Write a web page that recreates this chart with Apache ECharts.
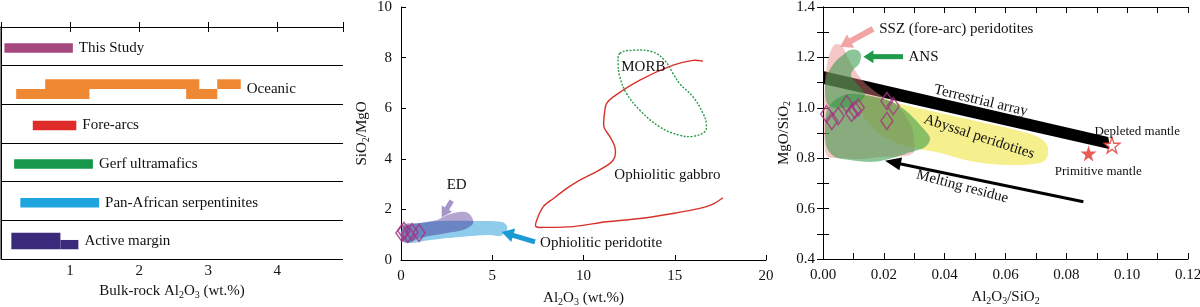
<!DOCTYPE html>
<html>
<head>
<meta charset="utf-8">
<script src="https://cdn.jsdelivr.net/npm/echarts@6/dist/echarts.min.js"></script>
<style>
html,body{margin:0;padding:0;background:#fff;}
#chart{width:1200px;height:307px;}
</style>
</head>
<body>
<div id="chart"></div>
<script>
// ================= DATA =================
// ---- Panel 1: bulk-rock Al2O3 ranges (wt.%) ----
const rowNames = ['This Study', 'Oceanic', 'Fore-arcs', 'Gerf ultramafics', 'Pan-African serpentinites', 'Active margin'];
const thisStudyRange = [[0.05, 1.04]];
const oceanicUpperRanges = [[0.64, 2.87], [3.13, 3.47]];
const oceanicLowerRanges = [[0.22, 1.28], [2.68, 3.13]];
const foreArcRange = [[0.46, 1.09]];
const gerfRange = [[0.19, 1.33]];
const panAfricanRange = [[0.28, 1.42]];
const activeMarginRange = [[0.15, 0.86]];
const activeMarginTail = [[0.86, 1.12]];
const p1TickLabels = [1, 2, 3, 4];

// ---- Panel 2: SiO2/MgO vs Al2O3 ----
const gabbroLine = [[16.55,7.86],[16.0,7.89],[14.91,7.70],[13.09,7.11],[11.63,6.45],[11.26,6.18],[11.17,5.92],[11.12,5.26],[11.45,4.87],[11.72,4.47],[11.72,4.08],[11.45,3.82],[10.53,3.42],[9.80,3.16],[9.08,2.83],[8.35,2.43],[7.80,2.11],[7.44,1.58],[7.40,1.32],[7.98,1.29],[9.44,1.32],[11.26,1.51],[13.09,1.64],[14.91,1.84],[16.37,2.04],[17.10,2.21],[17.64,2.46]];
const morbOutline = [[11.99,8.16],[12.72,8.29],[13.81,8.22],[14.45,7.89],[14.91,7.37],[15.27,6.97],[16.0,6.45],[16.55,5.79],[16.73,5.39],[16.64,5.07],[16.0,4.89],[15.27,4.93],[14.18,5.26],[13.09,5.92],[12.36,6.58],[11.99,7.24],[11.9,7.76]];
const ophioliticPeridotite = [[0.0,1.07],[0.05,0.79],[0.49,0.67],[1.59,0.79],[3.23,0.91],[4.88,0.99],[5.42,0.95],[5.75,1.11],[5.81,1.34],[5.53,1.50],[4.33,1.54],[2.14,1.54],[1.04,1.46],[0.22,1.34]];
const edField = [[0.02,0.80],[0.11,1.38],[1.04,1.46],[1.97,1.58],[2.52,1.78],[3.23,1.90],[3.67,1.86],[3.95,1.58],[3.89,1.38],[3.40,1.19],[2.52,1.07],[1.04,0.87],[0.33,0.67]];
const p2Samples = [[0.05,1.07],[0.16,1.15],[0.38,1.03],[0.60,1.10],[0.99,1.07]];
const p2XTicks = [0, 5, 10, 15, 20];
const p2YTicks = [0, 2, 4, 6, 8, 10];

// ---- Panel 3: MgO/SiO2 vs Al2O3/SiO2 ----
const terrestrialArray = [[0,1.146],[0.0938,0.884],[0.0944,0.836],[0,1.094]];
const abyssalField = [[0.01217,1.051],[0.02533,1.015],[0.03849,0.979],[0.05164,0.944],[0.0648,0.908],[0.07072,0.884],[0.07368,0.852],[0.07368,0.805],[0.07138,0.781],[0.05987,0.773],[0.04836,0.789],[0.03849,0.821],[0.03026,0.840],[0.02204,0.872],[0.01546,0.932],[0.01217,0.999]];
const sszField = [[0.00428,1.253],[0.00625,1.245],[0.00822,1.198],[0.01086,1.142],[0.01414,1.094],[0.01875,1.051],[0.02368,1.015],[0.02697,0.971],[0.02928,0.920],[0.02993,0.872],[0.02993,0.825],[0.02697,0.809],[0.01875,0.805],[0.01217,0.797],[0.00559,0.801],[0.00164,0.805],[0.00066,0.833],[0.00033,0.952],[0.00066,1.110],[0.00164,1.190],[0.00296,1.237]];
const ansUpperField = [[0.00132,1.130],[0.00395,1.182],[0.00658,1.210],[0.00888,1.229],[0.01118,1.229],[0.0125,1.210],[0.01184,1.174],[0.00987,1.150],[0.00921,1.126],[0.01151,1.090],[0.01382,1.051],[0.01053,1.011],[0.00559,0.999],[0.00164,1.011],[0.00066,1.071]];
const ansLowerField = [[0.00132,0.991],[0.00395,1.031],[0.00822,1.055],[0.01546,1.047],[0.02204,1.027],[0.02697,0.991],[0.03191,0.932],[0.0352,0.880],[0.03355,0.844],[0.02697,0.817],[0.02039,0.793],[0.01546,0.785],[0.00888,0.793],[0.00395,0.805],[0.00132,0.840],[0.00066,0.912]];
const p3Samples = [[0.0012,0.975],[0.0029,0.948],[0.0050,0.967],[0.0078,1.015],[0.0094,0.979],[0.0105,0.991],[0.0116,1.001],[0.0210,1.027],[0.0231,1.007],[0.0210,0.948]];
const primitiveMantle = [[0.0873,0.819]];
const depletedMantle = [[0.095,0.852]];
const p3XTicks = [0, 0.02, 0.04, 0.06, 0.08, 0.10, 0.12];
const p3YTicks = [0.4, 0.6, 0.8, 1.0, 1.2, 1.4];

// annotation anchors (data coordinates)
const p2Labels = [['MORB',13.28,7.64],['Ophiolitic gabbro',14.6,3.36],['ED',3.05,2.96],['Ophiolitic peridotite',7.62,0.66]];
const p2Arrows = [[[2.78,2.34],[2.23,1.69]],[[7.34,0.72],[5.52,1.11]]];
const p3Labels = [['SSZ (fore-arc) peridotites',0.0185,1.311],['ANS',0.0281,1.200],['Terrestrial array',0.0519,1.028],['Abyssal peridotites',0.0513,0.885],['Melting residue',0.0458,0.687],['Depleted mantle',0.1033,0.905],['Primitive mantle',0.0905,0.746]];
const p3Arrows = [[[0.01645,1.313],[0.0056,1.242]],[[0.0263,1.203],[0.0133,1.203]],[[0.0856,0.627],[0.0204,0.79]]];

// ================= STYLE =================
const FAMILY = '"Liberation Serif", "Times New Roman", serif';
const TXT = '#111';
const rowColors = ['#a4477e', '#ef8833', '#e02b2b', '#17974a', '#1ea5dd', '#3b2a7c'];
const BAND_OFFSETS = [[-3, 6.5], [-5.7, 4], [4, 14], [-7, 9.6], [0.3, 9.6]];
const rowSegments = [
  [[thisStudyRange, 0]],
  [[oceanicUpperRanges, 1], [oceanicLowerRanges, 2]],
  [[foreArcRange, 0]],
  [[gerfRange, 0]],
  [[panAfricanRange, 0]],
  [[activeMarginRange, 3], [activeMarginTail, 4]]
];
const barData = [];
rowSegments.forEach((segs, row) => segs.forEach(([ranges, band]) => ranges.forEach(([a, b]) => barData.push([row, a, b, band]))));
const rowLabelData = rowSegments.map((segs, row) => [row, Math.max(...segs.flatMap(([r]) => r.map(s => s[1])))]);
const rowLabelDy = rowSegments.map(segs => {
  const offs = segs.map(([, b]) => BAND_OFFSETS[b]);
  return (Math.min(...offs.map(o => o[0])) + Math.max(...offs.map(o => o[1]))) / 2;
});

const p2LabelStyle = [{align:'center'},{align:'center'},{align:'center'},{align:'left'}];
const p2ArrowStyle = [{c:'#a596c8', w:5, hl:10, hw:6},{c:'#1b9ad5', w:5, hl:12, hw:7}];
const p3LabelStyle = [{align:'left'},{align:'left'},{rot:-13.5},{rot:-18},{rot:-15},{size:13},{size:13}];
const p3ArrowStyle = [{c:'#f2a5a5', w:6, hl:12, hw:7.5},{c:'#1e9a4a', w:5, hl:10, hw:6.5},{c:'#000', w:3, hl:16, hw:6.5}];

const richSub = {
  n: {fontFamily: FAMILY, fontSize: 15, color: TXT},
  s: {fontFamily: FAMILY, fontSize: 10, color: TXT, padding: [7, 0, 0, 0]}
};
const STAR = 'path://M50,0 L61,35 L98,35 L68,57 L79,91 L50,70 L21,91 L32,57 L2,35 L39,35 Z';

// ================= HELPERS =================
function textEl(api, pos, text, o) {
  const p = api.coord(pos);
  return {type:'text', x:p[0], y:p[1] + (o.dy || 0), rotation:(o.rot || 0) * Math.PI / 180,
    style:{legacy:false, text:text, fill:TXT, font:(o.size || 15) + 'px ' + FAMILY, align:o.align || 'center', verticalAlign:'middle'}};
}
function arrowEl(api, tail, head, s) {
  const t = api.coord(tail), h = api.coord(head);
  const dx = h[0] - t[0], dy = h[1] - t[1], L = Math.hypot(dx, dy);
  const ux = dx / L, uy = dy / L, nx = -uy, ny = ux;
  const bx = h[0] - ux * s.hl, by = h[1] - uy * s.hl;
  return {type:'group', children:[
    {type:'line', shape:{x1:t[0], y1:t[1], x2:bx + ux, y2:by + uy}, style:{stroke:s.c, lineWidth:s.w}},
    {type:'polygon', shape:{points:[[h[0], h[1]], [bx + nx * s.hw, by + ny * s.hw], [bx - nx * s.hw, by - ny * s.hw]]}, style:{fill:s.c}}
  ]};
}
function shape(xi, yi, z, build) {
  return {type:'custom', xAxisIndex:xi, yAxisIndex:yi, z:z, silent:true, clip:false, data:[[0, 0]],
    renderItem:(params, api) => build(api)};
}
function poly(pts, api, style, smooth) {
  return {type:'polygon', shape:{points:pts.map(q => api.coord(q)), smooth:smooth}, style:style};
}

const axisLineBlack = {show:true, lineStyle:{color:'#000', width:1}};
const labelStyle = {fontFamily:FAMILY, fontSize:15, color:TXT};

// ================= CHART =================
const chart = echarts.init(document.getElementById('chart'), null, {renderer:'canvas', width:1200, height:307});
chart.setOption({
  backgroundColor:'#fff',
  animation:false,
  grid:[
    {left:1, top:27, width:342, height:232, outerBoundsMode:'none', containLabel:false},
    {left:401, top:7, width:365, height:253, outerBoundsMode:'none', containLabel:false},
    {left:823, top:7, width:365, height:252, outerBoundsMode:'none', containLabel:false}
  ],
  xAxis:[
    {gridIndex:0, type:'value', position:'bottom', min:0, max:4.95, interval:1, axisLine:axisLineBlack,
      axisTick:{show:true, inside:true, length:5, lineStyle:{color:'#000'}}, splitLine:{show:false},
      axisLabel:Object.assign({margin:5, formatter:v => p1TickLabels.includes(v) ? String(v) : ''}, labelStyle),
      name:'{n|Bulk-rock Al}{s|2}{n|O}{s|3}{n| (wt.%)}', nameLocation:'middle', nameGap:22, nameTextStyle:{rich:richSub}},
    {gridIndex:0, type:'value', position:'top', min:0, max:4.95, interval:1, axisLine:axisLineBlack,
      axisTick:{show:true, inside:true, length:5, lineStyle:{color:'#000'}}, splitLine:{show:false}, axisLabel:{show:false}},
    {gridIndex:1, type:'value', position:'bottom', min:0, max:20, interval:5, axisLine:axisLineBlack,
      axisTick:{show:true, inside:true, length:5, lineStyle:{color:'#000'}}, splitLine:{show:false},
      axisLabel:Object.assign({margin:9, formatter:v => p2XTicks.includes(v) ? String(v) : ''}, labelStyle),
      name:'{n|Al}{s|2}{n|O}{s|3}{n| (wt.%)}', nameLocation:'middle', nameGap:30, nameTextStyle:{rich:richSub}},
    {gridIndex:2, type:'value', position:'bottom', min:0, max:0.12, interval:0.02, axisLine:axisLineBlack,
      axisTick:{show:true, inside:true, length:6, lineStyle:{color:'#000'}},
      minorTick:{show:true, splitNumber:2, length:6, lineStyle:{color:'#000'}}, splitLine:{show:false}, minorSplitLine:{show:false},
      axisLabel:Object.assign({margin:9, formatter:v => v.toFixed(2)}, labelStyle),
      name:'{n|Al}{s|2}{n|O}{s|3}{n|/SiO}{s|2}', nameLocation:'middle', nameGap:30, nameTextStyle:{rich:richSub}},
    {gridIndex:2, type:'value', position:'top', min:0, max:0.12, interval:0.02, axisLine:axisLineBlack,
      axisTick:{show:true, inside:true, length:6, lineStyle:{color:'#000'}},
      minorTick:{show:true, splitNumber:2, length:6, lineStyle:{color:'#000'}}, splitLine:{show:false}, axisLabel:{show:false}}
  ],
  yAxis:[
    {gridIndex:0, type:'value', position:'left', min:0, max:6, interval:1, inverse:true,
      axisLine:{show:true, lineStyle:{color:'#555', width:1.5}}, axisTick:{show:false}, axisLabel:{show:false},
      splitLine:{show:true, lineStyle:{color:'#000', width:1}}},
    {gridIndex:0, type:'value', position:'right', min:0, max:6, interval:1, inverse:true,
      axisLine:axisLineBlack, axisTick:{show:false}, axisLabel:{show:false}, splitLine:{show:false}},
    {gridIndex:1, type:'value', position:'left', min:0, max:10, interval:2, axisLine:axisLineBlack,
      axisTick:{show:true, inside:true, length:5, lineStyle:{color:'#000'}}, splitLine:{show:false},
      axisLabel:Object.assign({margin:9, formatter:v => p2YTicks.includes(v) ? String(v) : ''}, labelStyle),
      name:'{n|SiO}{s|2}{n|/MgO}', nameLocation:'middle', nameRotate:90, nameGap:30, nameTextStyle:{rich:richSub}},
    {gridIndex:2, type:'value', position:'left', min:0.4, max:1.4, interval:0.2, axisLine:axisLineBlack,
      axisTick:{show:true, inside:true, length:6, lineStyle:{color:'#000'}},
      minorTick:{show:true, splitNumber:2, length:6, lineStyle:{color:'#000'}}, splitLine:{show:false}, minorSplitLine:{show:false},
      axisLabel:Object.assign({margin:8, formatter:v => v.toFixed(1)}, labelStyle),
      name:'{n|MgO/SiO}{s|2}', nameLocation:'middle', nameRotate:90, nameGap:30, nameTextStyle:{rich:richSub}},
    {gridIndex:2, type:'value', position:'right', min:0.4, max:1.4, interval:0.2, axisLine:axisLineBlack,
      axisTick:{show:true, inside:true, length:6, lineStyle:{color:'#000'}},
      minorTick:{show:true, splitNumber:2, length:6, lineStyle:{color:'#000'}}, splitLine:{show:false}, axisLabel:{show:false}}
  ],
  series:[
    // ---------- Panel 1 ----------
    {type:'custom', xAxisIndex:0, yAxisIndex:0, z:3, silent:true, clip:false, data:barData, encode:{x:[1, 2], y:0},
      renderItem:(params, api) => {
        const row = api.value(0), a = api.value(1), b = api.value(2), band = api.value(3);
        const p0 = api.coord([a, row + 0.5]), p1 = api.coord([b, row + 0.5]);
        const off = BAND_OFFSETS[band];
        return {type:'rect', shape:{x:p0[0], y:p0[1] + off[0], width:p1[0] - p0[0], height:off[1] - off[0]}, style:{fill:rowColors[row]}};
      }},
    {type:'custom', xAxisIndex:0, yAxisIndex:0, z:4, silent:true, clip:false, data:rowLabelData, encode:{x:1, y:0},
      renderItem:(params, api) => {
        const row = api.value(0), e = api.value(1);
        const p = api.coord([e, row + 0.5]);
        return {type:'text', x:p[0] + 6, y:p[1] + rowLabelDy[row],
          style:{legacy:false, text:rowNames[row], fill:TXT, font:'15px ' + FAMILY, align:'left', verticalAlign:'middle'}};
      }},
    // ---------- Panel 2 ----------
    shape(2, 2, 2, api => poly(ophioliticPeridotite, api, {fill:'#8fcbea'}, 0.35)),
    shape(2, 2, 3, api => poly(edField, api, {fill:'rgba(40,0,124,0.35)'}, 0.35)),
    shape(2, 2, 4, api => ({type:'polyline', shape:{points:gabbroLine.map(q => api.coord(q)), smooth:0.3}, style:{stroke:'#d6322a', lineWidth:1.4, fill:null}})),
    shape(2, 2, 4, api => poly(morbOutline, api, {fill:null, stroke:'#2a9a4a', lineWidth:1.4, lineDash:[2, 1.5]}, 0.4)),
    shape(2, 2, 5, api => ({type:'group', children:p2Arrows.map((a, i) => arrowEl(api, a[0], a[1], p2ArrowStyle[i]))})),
    {type:'scatter', xAxisIndex:2, yAxisIndex:2, z:6, silent:true, clip:false, data:p2Samples, symbol:'diamond', symbolSize:[12, 17],
      itemStyle:{color:'rgba(0,0,0,0)', borderColor:'#a2347e', borderWidth:1.6}},
    shape(2, 2, 7, api => ({type:'group', children:p2Labels.map((l, i) => textEl(api, [l[1], l[2]], l[0], p2LabelStyle[i]))})),
    // ---------- Panel 3 ----------
    shape(3, 3, 2, api => poly(abyssalField, api, {fill:'#f6ef8e'}, 0.35)),
    shape(3, 3, 3, api => poly(terrestrialArray, api, {fill:'#000'}, 0)),
    shape(3, 3, 4, api => poly(sszField, api, {fill:'rgba(235,130,130,0.45)'}, 0.3)),
    shape(3, 3, 5, api => poly(ansUpperField, api, {fill:'rgba(45,150,65,0.55)'}, 0.3)),
    shape(3, 3, 5, api => poly(ansLowerField, api, {fill:'rgba(45,150,65,0.55)'}, 0.3)),
    {type:'scatter', xAxisIndex:3, yAxisIndex:3, z:6, silent:true, clip:false, data:p3Samples, symbol:'diamond', symbolSize:[12, 17],
      itemStyle:{color:'rgba(0,0,0,0)', borderColor:'#a2347e', borderWidth:1.5}},
    {type:'scatter', xAxisIndex:3, yAxisIndex:3, z:6, silent:true, clip:false, data:primitiveMantle, symbol:STAR, symbolSize:16,
      itemStyle:{color:'#e3322a'}},
    {type:'scatter', xAxisIndex:3, yAxisIndex:3, z:6, silent:true, clip:false, data:depletedMantle, symbol:STAR, symbolSize:16,
      itemStyle:{color:'#fff', borderColor:'#e3322a', borderWidth:1.3}},
    shape(3, 3, 7, api => ({type:'group', children:p3Arrows.map((a, i) => arrowEl(api, a[0], a[1], p3ArrowStyle[i]))})),
    shape(3, 3, 8, api => ({type:'group', children:p3Labels.map((l, i) => textEl(api, [l[1], l[2]], l[0], p3LabelStyle[i]))}))
  ]
});
</script>
</body>
</html>
